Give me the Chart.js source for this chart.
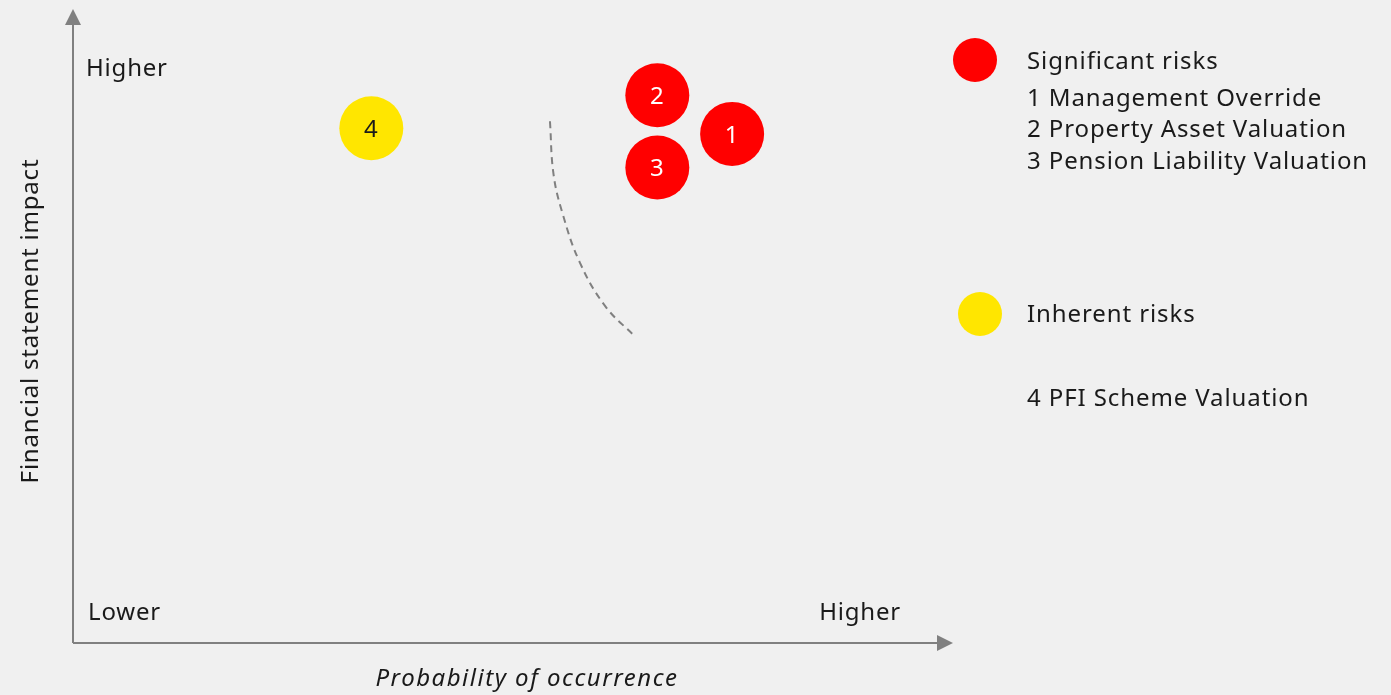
<!DOCTYPE html>
<html>
<head>
<meta charset="utf-8">
<script src="https://cdn.jsdelivr.net/npm/chart.js@4"></script>
<style>
  html, body { margin: 0; padding: 0; background: #f0f0f0; }
  #wrap { width: 1391px; height: 695px; }
</style>
</head>
<body>
<div id="wrap"><canvas id="chart"></canvas></div>
<script>
// risk points: probability (x) vs financial statement impact (y), scale 0-10
const riskIds = ['1', '2', '3', '4'];
const probability = [7.49, 6.64, 6.64, 3.39];
const impact = [8.03, 8.64, 7.50, 8.12];
const riskGroup = ['significant', 'significant', 'significant', 'inherent'];

// dashed threshold curve
const curveX = [5.42, 5.46, 5.56, 5.76, 6.05, 6.39];
const curveY = [8.23, 7.40, 6.79, 6.00, 5.31, 4.83];

const xTickLabels = ['Lower', 'Higher'];
const yTickLabels = ['Higher'];
const xTitle = 'Probability of occurrence';
const yTitle = 'Financial statement impact';

const significantTitle = 'Significant risks';
const significantRisks = ['1 Management Override', '2 Property Asset Valuation', '3 Pension Liability Valuation'];
const inherentTitle = 'Inherent risks';
const inherentRisks = ['4 PFI Scheme Valuation'];

const RED = '#ff0000';
const YELLOW = '#ffe600';
const GREY = '#808080';
const TEXT = '#1a1a1a';
const FONT = '"Noto Sans", "DejaVu Sans", sans-serif';

const groupColor = { significant: RED, inherent: YELLOW };
const groupText = { significant: '#ffffff', inherent: TEXT };

function arrowHead(ctx, tipX, tipY, dx, dy) {
  // dx,dy = unit direction of the arrow
  const len = 16, half = 8;
  const bx = tipX - dx * len, by = tipY - dy * len;
  ctx.beginPath();
  ctx.moveTo(tipX, tipY);
  ctx.lineTo(bx - dy * half, by + dx * half);
  ctx.lineTo(bx + dy * half, by - dx * half);
  ctx.closePath();
  ctx.fill();
}

const decorations = {
  id: 'decorations',
  beforeDatasetsDraw(chart) {
    const { ctx, chartArea: a } = chart;
    ctx.save();
    ctx.strokeStyle = GREY;
    ctx.fillStyle = GREY;
    ctx.lineWidth = 2;
    ctx.beginPath();
    ctx.moveTo(a.left, a.bottom);
    ctx.lineTo(a.left, a.top + 12);
    ctx.moveTo(a.left, a.bottom);
    ctx.lineTo(a.right - 12, a.bottom);
    ctx.stroke();
    arrowHead(ctx, a.left, a.top, 0, -1);
    arrowHead(ctx, a.right, a.bottom, 1, 0);
    ctx.restore();
  },
  afterDatasetsDraw(chart) {
    const { ctx, chartArea: a, scales: { x, y } } = chart;
    ctx.save();
    ctx.textBaseline = 'middle';
    ctx.letterSpacing = '0.8px';

    // numbers inside the bubbles
    const meta = chart.getDatasetMeta(0);
    ctx.font = '24px ' + FONT;
    ctx.textAlign = 'center';
    meta.data.forEach((pt, i) => {
      ctx.fillStyle = groupText[riskGroup[i]];
      ctx.fillText(riskIds[i], pt.x, pt.y + 2);
    });

    // axis end labels
    ctx.fillStyle = TEXT;
    ctx.textAlign = 'left';
    ctx.fillText(xTickLabels[0], x.getPixelForValue(0) + 15, a.bottom - 30);
    ctx.textAlign = 'right';
    ctx.fillText(xTickLabels[1], x.getPixelForValue(10) - 52, a.bottom - 30);
    ctx.textAlign = 'left';
    ctx.fillText(yTickLabels[0], a.left + 13, y.getPixelForValue(10) + 60);

    // axis titles
    ctx.textAlign = 'center';
    ctx.save();
    ctx.letterSpacing = '1.5px';
    ctx.font = 'italic 24px ' + FONT;
    ctx.fillText(xTitle, 527, 679);
    ctx.restore();
    ctx.font = '24px ' + FONT;
    ctx.translate(31, 321);
    ctx.rotate(-Math.PI / 2);
    ctx.fillText(yTitle, 0, 0);
    ctx.restore();

    // legend
    ctx.save();
    ctx.textBaseline = 'middle';
    ctx.letterSpacing = '0.9px';
    ctx.font = '24px ' + FONT;
    ctx.fillStyle = RED;
    ctx.beginPath(); ctx.arc(975, 60, 22, 0, Math.PI * 2); ctx.fill();
    ctx.fillStyle = YELLOW;
    ctx.beginPath(); ctx.arc(980, 314, 22, 0, Math.PI * 2); ctx.fill();
    ctx.fillStyle = TEXT;
    ctx.textAlign = 'left';
    ctx.fillText(significantTitle, 1027, 62);
    significantRisks.forEach((t, i) => ctx.fillText(t, 1027, 99 + i * 31.5));
    ctx.fillText(inherentTitle, 1027, 315);
    inherentRisks.forEach((t, i) => ctx.fillText(t, 1027, 399 + i * 31.5));
    ctx.restore();
  }
};

new Chart(document.getElementById('chart'), {
  type: 'scatter',
  data: {
    datasets: [
      {
        label: 'Risks',
        data: riskIds.map((id, i) => ({ x: probability[i], y: impact[i] })),
        backgroundColor: riskGroup.map(g => groupColor[g]),
        borderWidth: 0,
        pointRadius: 32,
        pointHoverRadius: 32,
        clip: false
      },
      {
        label: 'Threshold',
        type: 'line',
        data: curveX.map((v, i) => ({ x: v, y: curveY[i] })),
        borderColor: GREY,
        borderWidth: 2,
        borderDash: [7, 5],
        pointRadius: 0,
        tension: 0.4,
        fill: false
      }
    ]
  },
  options: {
    responsive: true,
    maintainAspectRatio: false,
    animation: false,
    layout: { autoPadding: false, padding: { left: 73, right: 438, top: 9, bottom: 52 } },
    plugins: { legend: { display: false }, tooltip: { enabled: false } },
    scales: {
      x: { type: 'linear', min: 0, max: 10, display: false },
      y: { type: 'linear', min: 0, max: 10, display: false }
    }
  },
  plugins: [decorations]
});
</script>
</body>
</html>
